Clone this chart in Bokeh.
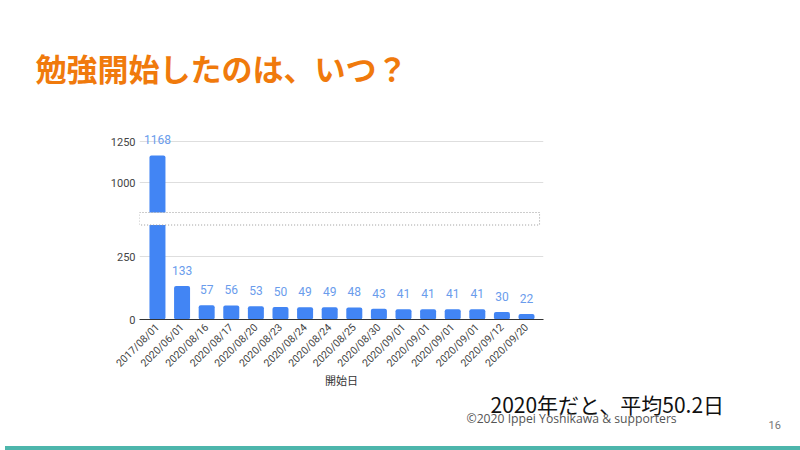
import math
from bokeh.plotting import figure
from bokeh.layouts import column
from bokeh.models import FixedTicker, ColumnDataSource, Range1d, Label, Div
from bokeh.core.properties import value
from bokeh.embed import file_html
from bokeh.resources import INLINE

# ---- data ----
DATES = ["2017/08/01", "2020/06/01", "2020/08/16", "2020/08/17", "2020/08/20",
         "2020/08/23", "2020/08/24", "2020/08/24", "2020/08/25", "2020/08/30",
         "2020/09/01", "2020/09/01", "2020/09/01", "2020/09/01", "2020/09/12",
         "2020/09/20"]
DAYS = [1168, 133, 57, 56, 53, 50, 49, 49, 48, 43, 41, 41, 41, 41, 30, 22]
Y_TICKS = [0, 250, 1000, 1250]
BREAK_LOW = 375    # lower axis segment ends here
BREAK_HIGH = 820   # upper axis segment starts here
TITLE = "勉強開始したのは、いつ？"
X_LABEL = "開始日"
NOTE = "2020年だと、平均50.2日"
COPYRIGHT = "©2020 Ippei Yoshikawa & supporters"
PAGE = "16"

# broken-axis mapping (value -> plotted position)
GAP = 49.6
RATIO = 0.651


def brk(v):
    if v <= BREAK_LOW:
        return float(v)
    return BREAK_LOW + GAP + (v - BREAK_HIGH) * RATIO


xs = list(range(len(DATES)))
src = ColumnDataSource(dict(
    x=xs,
    top=[brk(v) for v in DAYS],
    label=[str(v) for v in DAYS],
))

p = figure(width=800, height=441, output_backend="svg", toolbar_location=None,
           x_range=Range1d(-0.73, 15.69), y_range=Range1d(0, 750),
           min_border_left=139, min_border_right=257,
           min_border_top=130, min_border_bottom=122,
           background_fill_color="white", border_fill_color="white",
           outline_line_color=None)

# slide title
p.title.text = TITLE
p.title.align = "left"
p.title.offset = -104
p.title.vertical_align = "middle"
p.title.text_baseline = "middle"
p.title.standoff = 79
p.title.text_font = "Noto Sans CJK JP"
p.title.text_font_style = "bold"
p.title.text_font_size = "31px"
p.title.text_color = "#F07A0C"

p.vbar(x="x", top="top", bottom=0, width=0.65, source=src,
       fill_color="#4285F4", line_color=None, border_radius=2)

p.text(x="x", y="top", text="label", source=src, text_align="center",
       text_baseline="bottom", y_offset=-11, text_color="#6A9CEC",
       text_font=value("Roboto"), text_font_size="12px")

# axis break band
p.quad(left=-0.73, right=len(DATES) - 0.47, bottom=brk(BREAK_LOW), top=brk(BREAK_HIGH),
       fill_color="white", line_color="#9a9a9a", line_dash="1 2", line_width=1)

yt = [brk(v) for v in Y_TICKS]
p.yaxis.ticker = FixedTicker(ticks=yt)
p.yaxis.major_label_overrides = {t: str(v) for t, v in zip(yt, Y_TICKS)}
p.yaxis.axis_line_color = None
p.yaxis.major_tick_line_color = None
p.yaxis.minor_tick_line_color = None
p.yaxis.major_tick_out = 0
p.yaxis.major_tick_in = 0
p.yaxis.major_label_standoff = 4
p.yaxis.major_label_text_font = "Roboto"
p.yaxis.major_label_text_font_size = "11px"
p.yaxis.major_label_text_color = "#444444"
p.ygrid.ticker = FixedTicker(ticks=[brk(v) for v in Y_TICKS if v > 0])
p.ygrid.grid_line_color = "#dedede"
p.xgrid.grid_line_color = None

p.xaxis.ticker = FixedTicker(ticks=xs)
p.xaxis.major_label_overrides = {i: d for i, d in zip(xs, DATES)}
p.xaxis.major_label_orientation = math.pi / 4
p.xaxis.major_tick_line_color = None
p.xaxis.minor_tick_line_color = None
p.xaxis.major_tick_out = 0
p.xaxis.major_tick_in = 0
p.xaxis.axis_line_color = "#333333"
p.xaxis.major_label_text_font = "Roboto"
p.xaxis.major_label_text_font_size = "10.5px"
p.xaxis.major_label_text_color = "#444444"
p.xaxis.major_label_standoff = 6
p.xaxis.axis_label = X_LABEL
p.xaxis.axis_label_text_font = "Noto Sans CJK JP"
p.xaxis.axis_label_text_font_style = "normal"
p.xaxis.axis_label_text_font_size = "11px"
p.xaxis.axis_label_text_color = "#333333"
p.xaxis.axis_label_standoff = -5

# footer note in the bottom side panel (below the x axis)
p.add_layout(Label(x=351, y=18, x_units="screen", y_units="screen", text=NOTE,
                   text_font="Noto Sans CJK JP", text_font_size="21px", text_color="#111111",
                   text_baseline="middle"), "below")
# copyright and page number in the right side panel
p.add_layout(Label(x=-77, y=-99, x_units="screen", y_units="screen", text=COPYRIGHT,
                   text_font="Open Sans", text_font_size="12.2px", text_color="#555555",
                   text_baseline="middle"), "right")
p.add_layout(Label(x=15, y=-105, x_units="screen", y_units="screen", text=PAGE,
                   text_font="Roboto", text_font_size="11px", text_color="#777777",
                   text_baseline="middle"), "right")

band = Div(text="", width=800, height=9, styles={"background-color": "#4DB6AC"})

layout = column(p, band, spacing=0)
open("out.html", "w").write(file_html(layout, INLINE))
